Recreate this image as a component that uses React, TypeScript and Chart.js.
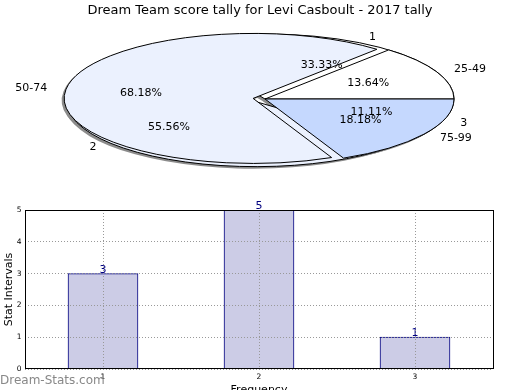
import React, { useEffect, useRef } from 'react';
import { Chart, registerables } from 'chart.js';

Chart.register(...registerables);

// ---- data ----
const TITLE = 'Dream Team score tally for Levi Casboult - 2017 tally';
const freqLabels = ['1', '2', '3'];
const freqValues = [3, 5, 1];
const bandLabels = ['25-49', '50-74', '75-99'];
const bandValues = [3, 15, 4];
const yTickMin = 0;
const yTickMax = 5;
const xAxisTitle = 'Frequency';
const yAxisTitle = 'Stat Intervals';
const watermark = 'Dream-Stats.com';

// ---- styles ----
const FONT = '"DejaVu Sans", "Liberation Sans", sans-serif';
const PIE_COLORS = ['#ffffff', '#ebf1fe', '#c5d8fe'];
const EXPLODE = [0, 12, 0];
const R = 189;
const SY = 65 / 189;
const SHADOW = '#8c8c8c';

function centerOf(chart: any) {
  const a = chart.chartArea;
  return { cx: (a.left + a.right) / 2, cy: (a.top + a.bottom) / 2 };
}

function ellipse(ctx: CanvasRenderingContext2D, cx: number, cy: number) {
  ctx.translate(cx, cy);
  ctx.scale(1, -SY);
  ctx.translate(-cx, -cy);
}

const shadowOpts = {
  backgroundColor: SHADOW,
  borderColor: SHADOW,
  borderWidth: 0,
  offset: 0,
  spacing: 0,
  circular: true,
  borderAlign: 'center',
  borderRadius: 0,
  borderJoinStyle: 'miter',
  borderDash: [],
  borderDashOffset: 0,
  selfJoin: false,
};

const pieSets = [
  { labels: freqLabels, values: freqValues },
  { labels: bandLabels, values: bandValues },
];

const piePlugin = {
  id: 'mplPie',
  afterDatasetsUpdate(chart: any) {
    const { cx, cy } = centerOf(chart);
    chart.data.datasets.forEach((_ds: any, di: number) => {
      const meta = chart.getDatasetMeta(di);
      meta.data.forEach((arc: any, i: number) => {
        const half = (arc.startAngle + arc.endAngle) / 2;
        const d = EXPLODE[i] || 0;
        arc.x = cx + d * Math.cos(half);
        arc.y = cy + d * Math.sin(half);
        arc.innerRadius = 0;
        arc.outerRadius = R;
      });
    });
  },
  beforeDatasetsDraw(chart: any) {
    const ctx: CanvasRenderingContext2D = chart.ctx;
    const { cx, cy } = centerOf(chart);
    ctx.save();
    ctx.translate(-2.5, 2);
    ellipse(ctx, cx, cy);
    for (let di = chart.data.datasets.length - 1; di >= 0; di--) {
      const meta = chart.getDatasetMeta(di);
      meta.data.forEach((arc: any) => {
        const o = arc.options;
        arc.options = { ...shadowOpts };
        arc.draw(ctx);
        arc.options = o;
      });
    }
    ctx.restore();
  },
  beforeDatasetDraw(chart: any) {
    const ctx: any = chart.ctx;
    const { cx, cy } = centerOf(chart);
    ctx.save();
    const base = ctx.getTransform();
    ellipse(ctx, cx, cy);
    const orig = CanvasRenderingContext2D.prototype.stroke;
    ctx.stroke = function (...args: any[]) {
      this.save();
      this.setTransform(base);
      orig.apply(this, args as any);
      this.restore();
    };
  },
  afterDatasetDraw(chart: any) {
    const ctx: any = chart.ctx;
    delete ctx.stroke;
    ctx.restore();
  },
  afterDatasetsDraw(chart: any) {
    const ctx: CanvasRenderingContext2D = chart.ctx;
    const { cx, cy } = centerOf(chart);
    ctx.save();
    ctx.fillStyle = '#000';
    ctx.font = `11px ${FONT}`;
    pieSets.forEach((s, di) => {
      const meta = chart.getDatasetMeta(di);
      const total = s.values.reduce((p, c) => p + c, 0);
      meta.data.forEach((arc: any, i: number) => {
        const half = (arc.startAngle + arc.endAngle) / 2;
        const at = (r: number) => {
          const px = arc.x + r * Math.cos(half);
          const py = arc.y + r * Math.sin(half);
          return [px, cy - (py - cy) * SY];
        };
        const [tx, ty] = at(0.6 * R);
        ctx.textAlign = 'center';
        ctx.textBaseline = 'middle';
        ctx.fillText(((s.values[i] / total) * 100).toFixed(2) + '%', tx, ty);
        const [lx, ly] = at(1.1 * R);
        ctx.textAlign = lx > cx ? 'left' : 'right';
        ctx.fillText(s.labels[i], lx, ly);
      });
    });
    ctx.font = `13px ${FONT}`;
    ctx.textAlign = 'center';
    ctx.textBaseline = 'alphabetic';
    ctx.fillText(TITLE, 260, 14);
    ctx.restore();
  },
};

const barPlugin = {
  id: 'mplBar',
  afterDatasetsDraw(chart: any) {
    const ctx: CanvasRenderingContext2D = chart.ctx;
    const meta = chart.getDatasetMeta(0);
    ctx.save();
    ctx.fillStyle = '#000080';
    ctx.font = `11px ${FONT}`;
    ctx.textAlign = 'center';
    ctx.textBaseline = 'alphabetic';
    meta.data.forEach((bar: any, i: number) => {
      ctx.fillText(String(freqValues[i]), bar.x, bar.y - 1);
    });
    ctx.restore();
  },
  afterDraw(chart: any) {
    const ctx: CanvasRenderingContext2D = chart.ctx;
    const a = chart.chartArea;
    ctx.save();
    ctx.strokeStyle = '#000';
    ctx.lineWidth = 1;
    ctx.strokeRect(Math.round(a.left) + 0.5, Math.round(a.top) + 0.5, Math.round(a.right - a.left), Math.round(a.bottom - a.top) - 1);
    ctx.fillStyle = '#888888';
    ctx.font = `12px ${FONT}`;
    ctx.textAlign = 'left';
    ctx.textBaseline = 'alphabetic';
    ctx.fillText(watermark, 0, 194);
    ctx.restore();
  },
};

export default function App() {
  const pieRef = useRef<HTMLCanvasElement>(null);
  const barRef = useRef<HTMLCanvasElement>(null);

  useEffect(() => {
    const pie = new Chart(pieRef.current as HTMLCanvasElement, {
      type: 'pie',
      data: {
        labels: freqLabels,
        datasets: [
          { data: freqValues, backgroundColor: PIE_COLORS, borderColor: '#000', borderWidth: 1, borderJoinStyle: 'miter', order: 1 } as any,
          { data: bandValues, backgroundColor: PIE_COLORS, borderColor: '#000', borderWidth: 1, borderJoinStyle: 'miter', order: 0 } as any,
        ],
      },
      options: {
        responsive: false,
        animation: false,
        events: [],
        rotation: 90,
        radius: R,
        layout: { padding: { left: 10, right: 0, top: 0, bottom: 0 } },
        plugins: { legend: { display: false }, tooltip: { enabled: false }, title: { display: false } },
      } as any,
      plugins: [piePlugin as any],
    });

    const tickFont = { family: FONT, size: 7.5 };
    const titleFont = { family: FONT, size: 11 };
    const bar = new Chart(barRef.current as HTMLCanvasElement, {
      type: 'bar',
      data: {
        labels: freqLabels,
        datasets: [
          {
            data: freqValues,
            backgroundColor: '#ccccE6',
            borderColor: '#000080',
            borderWidth: 1,
            barThickness: 70,
          },
        ],
      },
      options: {
        responsive: false,
        animation: false,
        events: [],
        layout: { padding: { top: 20, right: 27, left: 0, bottom: 0 } },
        plugins: { legend: { display: false }, tooltip: { enabled: false } },
        scales: {
          x: {
            grid: { offset: false, color: '#999999', lineWidth: 1, drawTicks: false, z: 1 },
            border: { display: false, dash: [1, 2] },
            ticks: { font: tickFont, color: '#000', padding: 3.5 },
            title: { display: true, text: xAxisTitle, font: titleFont, color: '#000', padding: { top: 0, bottom: 3.4 } },
            afterFit: (s: any) => { s.height = 31; },
          },
          y: {
            min: yTickMin,
            max: yTickMax,
            grid: { color: '#999999', lineWidth: 1, drawTicks: false, z: 1 },
            border: { display: false, dash: [1, 2] },
            ticks: { stepSize: 1, font: tickFont, color: '#000', padding: 3.5 },
            title: { display: true, text: yAxisTitle, font: titleFont, color: '#000', padding: { top: 2.4, bottom: 0 } },
            afterFit: (s: any) => { s.width = 25; },
          },
        },
      } as any,
      plugins: [barPlugin as any],
    });

    return () => {
      pie.destroy();
      bar.destroy();
    };
  }, []);

  return (
    <div style={{ position: 'absolute', left: 0, top: 0, width: 520, height: 390, overflow: 'hidden', background: '#fff' }}>
      <canvas ref={pieRef} width={520} height={198} style={{ position: 'absolute', left: 0, top: 0 }} />
      <canvas ref={barRef} width={520} height={210} style={{ position: 'absolute', left: 0, top: 190 }} />
    </div>
  );
}
